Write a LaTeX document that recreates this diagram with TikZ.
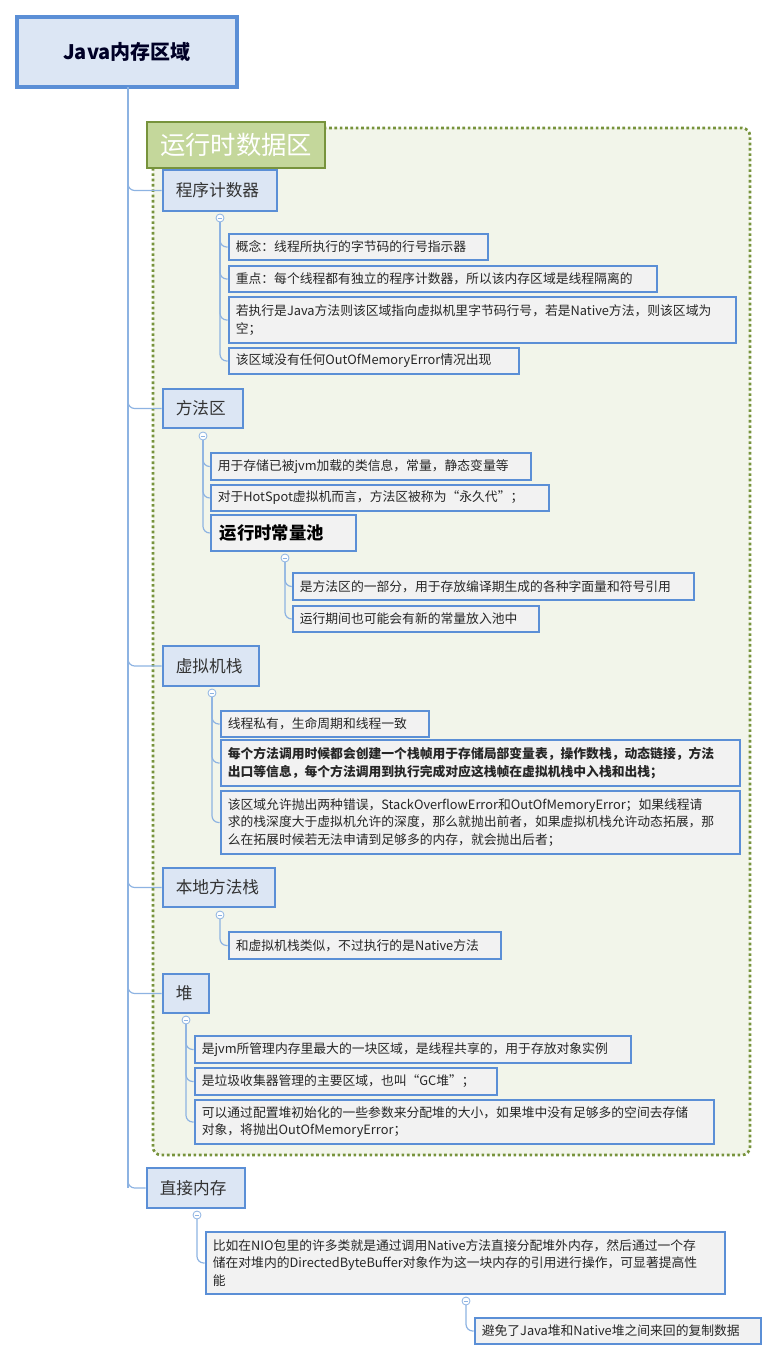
\documentclass[tikz,border=0pt]{standalone}
\usepackage{fontspec}
\setmainfont{Noto Sans CJK SC}
\usetikzlibrary{fit}
\definecolor{bord}{HTML}{5B8FD6}
\definecolor{lvl}{HTML}{DCE6F4}
\definecolor{leaf}{HTML}{F2F2F2}
\definecolor{trunk}{HTML}{8DB3E2}
\definecolor{gbord}{HTML}{77933C}
\definecolor{gfill}{HTML}{C4D79B}
\definecolor{rfill}{HTML}{F2F5EA}
\tikzset{
 boxs/.style={draw=bord,line width=2.2pt,fill=leaf,inner sep=0pt},
 lvls/.style={draw=bord,line width=2.2pt,fill=lvl,inner sep=0pt},
 txt/.style={anchor=west,align=left,inner sep=0pt,font=\fontsize{9.6}{13.2}\selectfont,text=black!85},
 ltxt/.style={anchor=west,inner sep=0pt,font=\fontsize{12.5}{15}\selectfont,text=black!80},
 conn/.style={draw=trunk,line width=0.9pt,rounded corners=5pt},
 knob/.style={circle,draw=trunk,fill=white,inner sep=0pt,minimum size=6pt,line width=0.6pt},
}
\newcommand{\bx}[7]{%
 \node[#1,fit={(#3,#4)(#5,#6)}] (#2) {};
 \node[txt] at ([xshift=8*0.75pt]#2.west) {#7};}
\newcommand{\lv}[6]{%
 \node[lvls,fit={(#2,#3)(#4,#5)}] (#1) {};
 \node[ltxt] at ([xshift=14*0.75pt]#1.west) {#6};}
\newcommand{\kn}[2]{\node[knob] (#1) at (#2) {}; \draw[trunk,line width=0.6pt] ([xshift=-1.8pt]#1.center)--([xshift=1.8pt]#1.center);}
\begin{document}
\begin{tikzpicture}[x=0.75pt,y=-0.75pt]
\useasboundingbox (0,0) rectangle (778,1362);
% region
\draw[gbord,fill=rfill,line width=2pt,dotted,rounded corners=6pt] (153,128) rectangle (750,1155);
% trunk
\coordinate (t0) at (128,87);
\draw[conn] (t0) -- (128,1188);
% root
\node[lvls,line width=3pt,fit={(17,17)(237,87)}] (root) {};
\node[font=\fontsize{15}{18}\selectfont\bfseries,text=black!75!blue!60!black] at (root) {Java内存区域};
% region label
\node[draw=gbord,line width=2.2pt,fill=gfill,inner sep=0pt,fit={(147,122)(325,168)}] (rl) {};
\node[text=white,font=\fontsize{19}{22}\selectfont\itshape,inner sep=0pt] at (rl) {运行时数据区};
% level 1
\lv{a}{163}{170}{277}{211}{程序计数器}
\lv{b}{163}{389}{243}{428}{方法区}
\lv{c}{163}{646}{259}{686}{虚拟机栈}
\lv{d}{163}{868}{275}{907}{本地方法栈}
\lv{e}{163}{974}{209}{1013}{堆}
\lv{f}{147}{1168}{245}{1208}{直接内存}
\foreach \n in {a,b,c,d,e,f}{\draw[conn] (128,150) |- (\n.west);}
\draw[conn] (t0) -- (128,1188);
% a children
\bx{boxs}{a1}{229}{234}{488}{260}{概念：线程所执行的字节码的行号指示器}
\bx{boxs}{a2}{229}{266}{657}{292}{重点：每个线程都有独立的程序计数器，所以该内存区域是线程隔离的}
\bx{boxs}{a3}{229}{297}{736}{343}{若执行是Java方法则该区域指向虚拟机里字节码行号，若是Native方法，则该区域为\\空；}
\bx{boxs}{a4}{229}{348}{519}{374}{该区域没有任何OutOfMemoryError情况出现}
\foreach \n in {a1,a2,a3,a4}{\draw[conn] (220,218) |- (\n.west);}
\kn{ka}{220,218}
% b children
\bx{boxs}{b1}{211}{453}{531}{480}{用于存储已被jvm加载的类信息，常量，静态变量等}
\bx{boxs}{b2}{211}{485}{549}{511}{对于HotSpot虚拟机而言，方法区被称为“永久代”；}
\node[boxs,fit={(211,515)(356,551)}] (b3) {};
\node[txt,font=\fontsize{13}{15}\selectfont\bfseries,text=black] at ([xshift=10*0.75pt]b3.west) {运行时常量池};
\foreach \n in {b1,b2,b3}{\draw[conn] (203,436) |- (\n.west);}
\kn{kb}{203,436}
\bx{boxs}{b31}{293}{573}{694}{600}{是方法区的一部分，用于存放编译期生成的各种字面量和符号引用}
\bx{boxs}{b32}{293}{606}{539}{632}{运行期间也可能会有新的常量放入池中}
\foreach \n in {b31,b32}{\draw[conn] (285,558) |- (\n.west);}
\kn{kb3}{285,558}
% c children
\bx{boxs}{c1}{221}{711}{429}{737}{线程私有，生命周期和线程一致}
\bx{boxs}{c2}{221}{740}{740}{786}{\textbf{每个方法调用时候都会创建一个栈帧用于存储局部变量表，操作数栈，动态链接，方法}\\\textbf{出口等信息，每个方法调用到执行完成对应这栈帧在虚拟机栈中入栈和出栈；}}
\bx{boxs}{c3}{221}{791}{740}{854}{该区域允许抛出两种错误，StackOverflowError和OutOfMemoryError；如果线程请\\求的栈深度大于虚拟机允许的深度，那么就抛出前者，如果虚拟机栈允许动态拓展，那\\么在拓展时候若无法申请到足够多的内存，就会抛出后者；}
\foreach \n in {c1,c2,c3}{\draw[conn] (212,693) |- (\n.west);}
\kn{kc}{212,693}
% d children
\bx{boxs}{d1}{229}{932}{501}{959}{和虚拟机栈类似，不过执行的是Native方法}
\draw[conn] (220,915) |- (d1.west);
\kn{kd}{220,915}
% e children
\bx{boxs}{e1}{195}{1036}{631}{1063}{是jvm所管理内存里最大的一块区域，是线程共享的，用于存放对象实例}
\bx{boxs}{e2}{195}{1068}{497}{1095}{是垃圾收集器管理的主要区域，也叫“GC堆”；}
\bx{boxs}{e3}{195}{1100}{714}{1144}{可以通过配置堆初始化的一些参数来分配堆的大小，如果堆中没有足够多的空间去存储\\对象，将抛出OutOfMemoryError；}
\foreach \n in {e1,e2,e3}{\draw[conn] (186,1020) |- (\n.west);}
\kn{ke}{186,1020}
% f children
\bx{boxs}{f1}{206}{1232}{725}{1294}{比如在NIO包里的许多类就是通过调用Native方法直接分配堆外内存，然后通过一个存\\储在对堆内的DirectedByteBuffer对象作为这一块内存的引用进行操作，可显著提高性\\能}
\draw[conn] (197,1215) |- (f1.west);
\kn{kf}{197,1215}
\bx{boxs}{f11}{475}{1318}{761}{1344}{避免了Java堆和Native堆之间来回的复制数据}
\draw[conn] (466,1301) |- (f11.west);
\kn{kf1}{466,1301}
\end{tikzpicture}
\end{document}
